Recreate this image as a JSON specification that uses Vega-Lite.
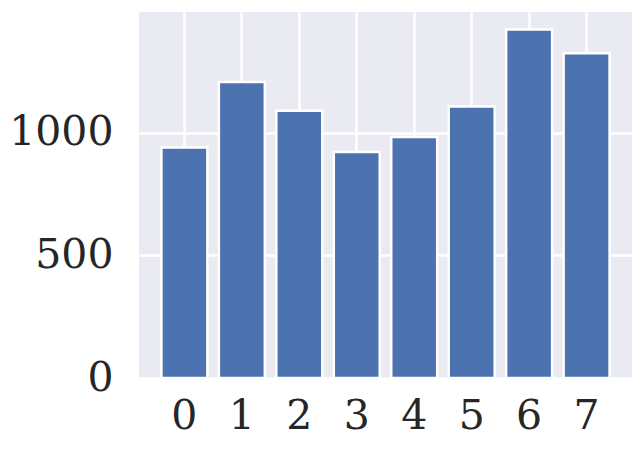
{
  "$schema": "https://vega.github.io/schema/vega-lite/v6.json",
  "width": 493,
  "height": 366,
  "autosize": {"type": "none"},
  "padding": {"left": 139, "top": 12, "right": 11, "bottom": 73},
  "background": "white",
  "config": {
    "view": {"fill": "#EAEAF2", "stroke": null},
    "font": "DejaVu Serif"
  },
  "data": {
    "values": [
      {"category": "0", "value": 940},
      {"category": "1", "value": 1207},
      {"category": "2", "value": 1089},
      {"category": "3", "value": 921},
      {"category": "4", "value": 982},
      {"category": "5", "value": 1107},
      {"category": "6", "value": 1421},
      {"category": "7", "value": 1324}
    ]
  },
  "mark": {"type": "bar", "fill": "#4C72B0", "stroke": "white", "strokeWidth": 2.5},
  "encoding": {
    "x": {
      "field": "category",
      "type": "ordinal",
      "scale": {"paddingInner": 0.2, "paddingOuter": 0.39},
      "axis": {
        "title": null,
        "labelAngle": 0,
        "grid": true,
        "gridColor": "white",
        "gridWidth": 2.5,
        "bandPosition": 0.5,
        "domain": false,
        "ticks": false,
        "labelFont": "DejaVu Serif",
        "labelFontSize": 41,
        "labelColor": "#262626",
        "labelPadding": 18
      }
    },
    "y": {
      "field": "value",
      "type": "quantitative",
      "scale": {"domain": [0, 1492], "nice": false, "zero": true},
      "axis": {
        "title": null,
        "values": [0, 500, 1000],
        "format": "d",
        "grid": true,
        "gridColor": "white",
        "gridWidth": 2.5,
        "domain": false,
        "ticks": false,
        "labelFont": "DejaVu Serif",
        "labelFontSize": 41,
        "labelColor": "#262626",
        "labelPadding": 26
      }
    }
  }
}
